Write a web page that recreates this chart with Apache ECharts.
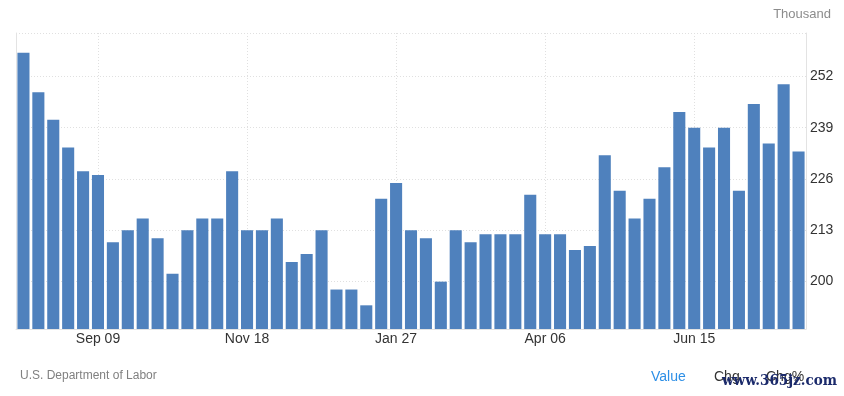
<!DOCTYPE html>
<html>
<head>
<meta charset="utf-8">
<script src="https://cdn.jsdelivr.net/npm/echarts@6/dist/echarts.min.js"></script>
<style>
html,body{margin:0;padding:0;background:#fff;}
#chart{width:844px;height:396px;}
</style>
</head>
<body>
<div id="chart"></div>
<script>
const categories = ["Aug 05","Aug 12","Aug 19","Aug 26","Sep 02","Sep 09","Sep 16","Sep 23","Sep 30","Oct 07","Oct 14","Oct 21","Oct 28","Nov 04","Nov 11","Nov 18","Nov 25","Dec 02","Dec 09","Dec 16","Dec 23","Dec 30","Jan 06","Jan 13","Jan 20","Jan 27","Feb 03","Feb 10","Feb 17","Feb 24","Mar 02","Mar 09","Mar 16","Mar 23","Mar 30","Apr 06","Apr 13","Apr 20","Apr 27","May 04","May 11","May 18","May 25","Jun 01","Jun 08","Jun 15","Jun 22","Jun 29","Jul 06","Jul 13","Jul 20","Jul 27","Aug 03"];
const values = [258,248,241,234,228,227,210,213,216,211,202,213,216,216,228,213,213,216,205,207,213,198,198,194,221,225,213,211,200,213,210,212,212,212,222,212,212,208,209,232,223,216,221,229,243,239,234,239,223,245,235,250,233];
const yTicks = [200,213,226,239,252];
const yGridLines = [200,213,226,239,252,263];
const shownLabels = ["Sep 09","Nov 18","Jan 27","Apr 06","Jun 15"];

const chart = echarts.init(document.getElementById('chart'));
const showIdx = (i) => shownLabels.indexOf(categories[i]) >= 0;
chart.setOption({
  animation: false,
  grid: {left: 16, right: 38, top: 33, bottom: 67},
  title: [
    {text: 'Thousand', right: 8, top: 3, textStyle: {fontSize: 13, fontWeight: 'normal', color: '#8c8c8c', fontFamily: 'Liberation Sans, Arial'}},
    {text: 'U.S. Department of Labor', left: 15, top: 365, textStyle: {fontSize: 12, fontWeight: 'normal', color: '#808080', fontFamily: 'Liberation Sans, Arial'}},
    {text: 'Value', left: 646, top: 365, textStyle: {fontSize: 14, fontWeight: 'normal', color: '#2d8fe6', fontFamily: 'Liberation Sans, Arial'}},
    {text: 'Chg', left: 709, top: 365, textStyle: {fontSize: 14, fontWeight: 'normal', color: '#333', fontFamily: 'Liberation Sans, Arial'}},
    {text: 'Chg%', left: 761, top: 365, textStyle: {fontSize: 14, fontWeight: 'normal', color: '#333', fontFamily: 'Liberation Sans, Arial'}},
    {text: 'www.365jz.com', left: 717, top: 369, textStyle: {fontSize: 15, fontWeight: 'bold', color: '#1b2a6b', fontFamily: 'DejaVu Serif Condensed, DejaVu Serif, serif'}}
  ],
  xAxis: {
    type: 'category',
    data: categories,
    boundaryGap: true,
    axisLine: {show: true, lineStyle: {color: '#e3e3e3', width: 1}},
    axisTick: {show: false, alignWithLabel: true, interval: (i) => showIdx(i)},
    axisLabel: {interval: (i) => showIdx(i), color: '#333', fontSize: 14, margin: 3, fontFamily: 'Liberation Sans, Arial'},
    splitLine: {show: true, alignWithLabel: true, interval: (i) => showIdx(i), lineStyle: {color: '#e0e0e0', type: [1, 2], width: 1}}
  },
  yAxis: [
    {
      type: 'value',
      position: 'right',
      min: 188,
      max: 263,
      axisLine: {show: true, lineStyle: {color: '#e3e3e3'}},
      axisTick: {show: false, customValues: yGridLines},
      axisLabel: {customValues: yTicks, color: '#333', fontSize: 14, margin: 4, fontFamily: 'Liberation Sans, Arial'},
      splitLine: {show: true, lineStyle: {color: '#e0e0e0', type: [1, 2], width: 1}}
    },
    {
      type: 'value',
      position: 'left',
      min: 188,
      max: 263,
      axisLine: {show: true, lineStyle: {color: '#e3e3e3'}},
      axisTick: {show: false},
      axisLabel: {show: false},
      splitLine: {show: false}
    }
  ],
  series: [{
    type: 'bar',
    data: values,
    yAxisIndex: 0,
    barCategoryGap: '19%',
    itemStyle: {color: '#4f81bd'}
  }]
});
</script>
</body>
</html>
